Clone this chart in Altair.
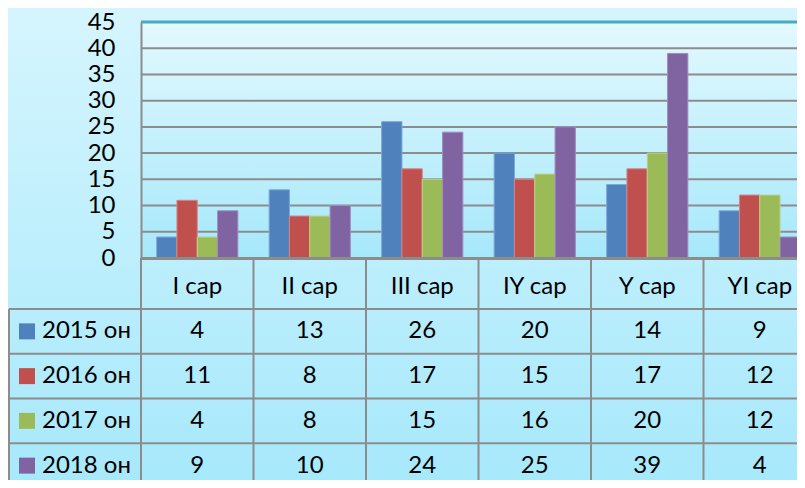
import altair as alt
import pandas as pd

categories = ["I cap", "II cap", "III cap", "IY cap", "Y cap", "YI cap"]
series = ["2015 он", "2016 он", "2017 он", "2018 он"]
v2015 = [4, 13, 26, 20, 14, 9]
v2016 = [11, 8, 17, 15, 17, 12]
v2017 = [4, 8, 15, 16, 20, 12]
v2018 = [9, 10, 24, 25, 39, 4]
y_ticks = [0, 5, 10, 15, 20, 25, 30, 35, 40, 45]

colors = ["#4f81bd", "#c0504d", "#9bbb59", "#8064a2"]
strokes = ["#7fa7d8", "#d98280", "#b9d48a", "#a18cc0"]
FONT = "Lato"
FS = 24
GRAY = "#8c8c8c"

rows = []
for s, vals in zip(series, [v2015, v2016, v2017, v2018]):
    for c, v in zip(categories, vals):
        rows.append({"cat": c, "series": s, "value": v})
df = pd.DataFrame(rows)
df_ser = pd.DataFrame({"series": series})
df_cat = pd.DataFrame({"cat": categories})
df_grid = pd.DataFrame({"tick": [t for t in y_ticks if t > 0]})
one = pd.DataFrame({"a": [1]})

W, H = 656, 236
FULLW = 675

xscale = alt.Scale(domain=categories, range=[0, FULLW], paddingInner=0, paddingOuter=0)
xaxis = alt.Axis(title=None, ticks=False, domain=True, domainColor=GRAY, domainWidth=3,
                 labelFont=FONT, labelFontSize=FS, labelColor="black", labelPadding=16,
                 labelAngle=0, zindex=1, grid=False)
yscale = alt.Scale(domain=[0, 45], nice=False, zero=True)
yaxis = alt.Axis(title=None, values=y_ticks, ticks=False, grid=False, domain=True,
                 domainColor=GRAY, domainWidth=2, labelFont=FONT, labelFontSize=FS,
                 labelColor="black", labelPadding=26, zindex=1)
tscale = alt.Scale(domain=series, range=[287, 466], paddingInner=0, paddingOuter=0)
cscale = alt.Scale(domain=series, range=colors)

bg_full = alt.Chart(one).mark_rect(
    fill=alt.Gradient(gradient="linear", x1=0, x2=0, y1=0, y2=1,
                      stops=[alt.GradientStop(color="#d5f5fe", offset=0),
                             alt.GradientStop(color="#a5e8fb", offset=1)])
).encode(x=alt.value(-133), x2=alt.value(FULLW), y=alt.value(-14), y2=alt.value(480))

bg_plot = alt.Chart(one).mark_rect(
    fill=alt.Gradient(gradient="linear", x1=0, x2=0, y1=0, y2=1,
                      stops=[alt.GradientStop(color="#e3f9fe", offset=0),
                             alt.GradientStop(color="#a6e8fb", offset=1)])
).encode(x=alt.value(0), x2=alt.value(FULLW), y=alt.value(0), y2=alt.value(H))

grid = alt.Chart(df_grid).mark_rule().encode(
    y=alt.Y("tick:Q", scale=yscale, axis=None),
    x=alt.value(0), x2=alt.value(FULLW),
    color=alt.condition(alt.datum.tick == 45, alt.value("#4aaac4"), alt.value(GRAY)),
    strokeWidth=alt.condition(alt.datum.tick == 45, alt.value(3), alt.value(2)),
)

bars = alt.Chart(df).mark_bar(strokeWidth=1).encode(
    x=alt.X("cat:N", scale=xscale, axis=xaxis),
    xOffset=alt.XOffset("series:N", scale=alt.Scale(domain=series, paddingOuter=0.77, paddingInner=0)),
    y=alt.Y("value:Q", scale=yscale, axis=yaxis),
    color=alt.Color("series:N", scale=cscale, legend=None),
    stroke=alt.Stroke("series:N", scale=alt.Scale(domain=series, range=strokes), legend=None),
)

vrules = alt.Chart(df_cat).mark_rule(color=GRAY, strokeWidth=2).encode(
    x=alt.X("cat:N", scale=xscale, axis=xaxis, bandPosition=0),
    y=alt.value(H), y2=alt.value(480),
)

hrules = alt.Chart(df_ser).mark_rule(color=GRAY, strokeWidth=2).encode(
    y=alt.Y("series:N", scale=tscale, axis=None, bandPosition=0),
    x=alt.value(-132), x2=alt.value(FULLW),
)

leftborder = alt.Chart(one).mark_rule(color=GRAY, strokeWidth=2).encode(
    x=alt.value(-132), y=alt.value(287), y2=alt.value(480),
)

vals = alt.Chart(df).mark_text(font=FONT, fontSize=FS, color="black", align="center",
                               baseline="middle").encode(
    x=alt.X("cat:N", scale=xscale, axis=xaxis),
    y=alt.Y("series:N", scale=tscale, axis=None),
    text=alt.Text("value:Q"),
)

squares = alt.Chart(df_ser).mark_square(size=256, opacity=1, filled=True).encode(
    x=alt.value(-114),
    y=alt.Y("series:N", scale=tscale, axis=None),
    color=alt.Color("series:N", scale=cscale, legend=None),
)

legtext = alt.Chart(df_ser).mark_text(font=FONT, fontSize=FS, color="black", align="left",
                                      baseline="middle").encode(
    x=alt.value(-99),
    y=alt.Y("series:N", scale=tscale, axis=None),
    text="series:N",
)

chart = alt.layer(
    bg_full, bg_plot, grid, bars, vrules, hrules, leftborder, vals, squares, legtext
).resolve_scale(y="independent").properties(
    width=W, height=H,
    padding={"left": 133, "top": 14, "right": 0, "bottom": 222},
    autosize=alt.AutoSizeParams(type="none"),
    background="#c0effc",
).configure_view(stroke=None)

chart.save("out.html", embed_options={"renderer": "svg", "actions": False})
